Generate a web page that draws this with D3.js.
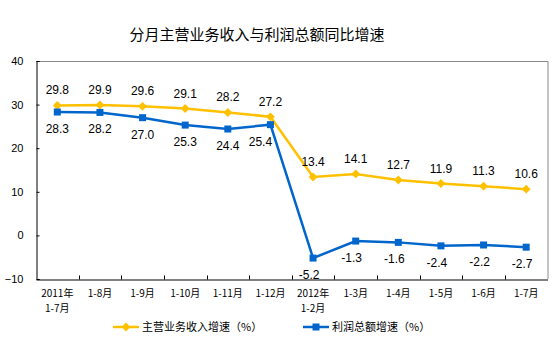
<!DOCTYPE html>
<html lang="zh">
<head>
<meta charset="utf-8">
<title>分月主营业务收入与利润总额同比增速</title>
<script src="https://cdn.jsdelivr.net/npm/d3@7/dist/d3.min.js"></script>
<style>
  body { margin: 0; background: #fff; }
  svg text { font-family: "Liberation Sans", Arial, "Noto Sans CJK SC", sans-serif; }
  .cjk { font-family: "Noto Sans CJK SC", sans-serif; }
</style>
</head>
<body>
<div id="chart"></div>
<script>
// 数据
var categories = [["2011年", "1-7月"], ["1-8月"], ["1-9月"], ["1-10月"], ["1-11月"], ["1-12月"],
                  ["2012年", "1-2月"], ["1-3月"], ["1-4月"], ["1-5月"], ["1-6月"], ["1-7月"]];
var revenueGrowth = [29.8, 29.9, 29.6, 29.1, 28.2, 27.2, 13.4, 14.1, 12.7, 11.9, 11.3, 10.6];
var profitGrowth  = [28.3, 28.2, 27.0, 25.3, 24.4, 25.4, -5.2, -1.3, -1.6, -2.4, -2.2, -2.7];
var yTicks = [-10, 0, 10, 20, 30, 40];
var seriesNames = ["主营业务收入增速（%）", "利润总额增速（%）"];

var w = 554, h = 351;
var pLeft = 36, pRight = 547.5, pTop = 61, pBottom = 279;

var svg = d3.select("#chart").append("svg")
            .attr("width", w)
            .attr("height", h);

// 标题
svg.append("text")
   .attr("class", "cjk")
   .attr("x", 257)
   .attr("y", 40)
   .attr("text-anchor", "middle")
   .attr("font-size", 15)
   .attr("fill", "#000")
   .text("分月主营业务收入与利润总额同比增速");

// 比例尺
var xScale = d3.scaleBand()
               .domain(d3.range(categories.length))
               .range([pLeft, pRight]);
var yScale = d3.scaleLinear()
               .domain([-10, 40])
               .range([pBottom, pTop]);
var cx = function(i){ return xScale(i) + xScale.bandwidth() / 2; };

// 外框（上、右为灰色）
svg.append("path")
   .attr("d", "M" + pLeft + "," + (pTop + 0.5) + "H" + (pRight + 0.5) + "V" + pBottom)
   .attr("fill", "none")
   .attr("stroke", "#888")
   .attr("stroke-width", 1);

// y轴
var yAxis = d3.axisLeft(yScale).tickValues(yTicks).tickSize(-3).tickPadding(13);
var gy = svg.append("g")
            .attr("transform", "translate(" + (pLeft + 0.5) + ",0)")
            .call(yAxis);
gy.select(".domain").attr("stroke", "#000");
gy.selectAll("text").attr("font-size", 11).attr("fill", "#000")
  .attr("font-family", "'Liberation Sans', Arial, sans-serif");

// x轴
var xAxis = d3.axisBottom(xScale).tickSize(0).tickFormat("");
var gx = svg.append("g")
            .attr("transform", "translate(0," + (pBottom + 0.5) + ")")
            .call(xAxis);
gx.select(".domain").attr("stroke", "#000");
gx.selectAll(".tick").remove();
// 分隔刻度（向上）
gx.selectAll("line.sep")
  .data(d3.range(1, categories.length))
  .enter()
  .append("line")
  .attr("class", "sep")
  .attr("x1", function(i){ return Math.round(xScale(i)) + 0.5; })
  .attr("x2", function(i){ return Math.round(xScale(i)) + 0.5; })
  .attr("y1", 0)
  .attr("y2", -4)
  .attr("stroke", "#000");

// x轴标签（每行一个text）
var xLines = [];
categories.forEach(function(c, i){
    c.forEach(function(s, j){ xLines.push({s: s, i: i, j: j}); });
});
svg.selectAll("text.xlab")
   .data(xLines)
   .enter()
   .append("text")
   .attr("class", "xlab cjk")
   .attr("x", function(d){ return cx(d.i); })
   .attr("y", function(d){ return 297 + d.j * 15; })
   .attr("text-anchor", "middle")
   .attr("font-size", 10)
   .attr("fill", "#000")
   .text(function(d){ return d.s; });

var yellow = "#FFC000", blue = "#0066CC";

var line = d3.line()
             .x(function(d, i){ return cx(i); })
             .y(function(d){ return yScale(d); });

// 主营业务收入增速
svg.append("path")
   .datum(revenueGrowth)
   .attr("d", line)
   .attr("fill", "none")
   .attr("stroke", yellow)
   .attr("stroke-width", 2.5);
svg.selectAll("path.dia")
   .data(revenueGrowth)
   .enter()
   .append("path")
   .attr("class", "dia")
   .attr("d", d3.symbol(d3.symbolDiamond2, 50))
   .attr("transform", function(d, i){ return "translate(" + cx(i) + "," + yScale(d) + ")"; })
   .attr("fill", yellow);

// 利润总额增速
svg.append("path")
   .datum(profitGrowth)
   .attr("d", line)
   .attr("fill", "none")
   .attr("stroke", blue)
   .attr("stroke-width", 2.5);
svg.selectAll("rect.sq")
   .data(profitGrowth)
   .enter()
   .append("rect")
   .attr("class", "sq")
   .attr("x", function(d, i){ return cx(i) - 3.5; })
   .attr("y", function(d){ return yScale(d) - 3.5; })
   .attr("width", 7)
   .attr("height", 7)
   .attr("fill", blue);

// 数据标签
svg.selectAll("text.ylab")
   .data(revenueGrowth)
   .enter()
   .append("text")
   .attr("class", "ylab")
   .attr("x", function(d, i){ return cx(i); })
   .attr("y", function(d){ return yScale(d) - 11; })
   .attr("text-anchor", "middle")
   .attr("font-size", 12)
   .attr("fill", "#000")
   .text(function(d){ return d.toFixed(1); });

svg.selectAll("text.blab")
   .data(profitGrowth)
   .enter()
   .append("text")
   .attr("class", "blab")
   .attr("x", function(d, i){ return cx(i) - (i === 5 ? 10 : (d < 0 ? 4 : 0)); })
   .attr("y", function(d){ return yScale(d) + 21; })
   .attr("text-anchor", "middle")
   .attr("font-size", 12)
   .attr("fill", "#000")
   .text(function(d){ return d.toFixed(1); });

// 图例
var legend = svg.append("g").attr("transform", "translate(0,327)");
var items = [{x: 113, color: yellow, shape: "dia", name: seriesNames[0]},
             {x: 303, color: blue, shape: "sq", name: seriesNames[1]}];
items.forEach(function(it){
    legend.append("line")
          .attr("x1", it.x).attr("x2", it.x + 26)
          .attr("y1", 0).attr("y2", 0)
          .attr("stroke", it.color).attr("stroke-width", 2.5);
    if (it.shape === "dia") {
        legend.append("path")
              .attr("d", d3.symbol(d3.symbolDiamond2, 50))
              .attr("transform", "translate(" + (it.x + 13) + ",0)")
              .attr("fill", it.color);
    } else {
        legend.append("rect")
              .attr("x", it.x + 13 - 3.5).attr("y", -3.5)
              .attr("width", 7).attr("height", 7)
              .attr("fill", it.color);
    }
    legend.append("text")
          .attr("class", "cjk")
          .attr("x", it.x + 29)
          .attr("y", 4)
          .attr("font-size", 11)
          .attr("fill", "#000")
          .text(it.name);
});
</script>
</body>
</html>
